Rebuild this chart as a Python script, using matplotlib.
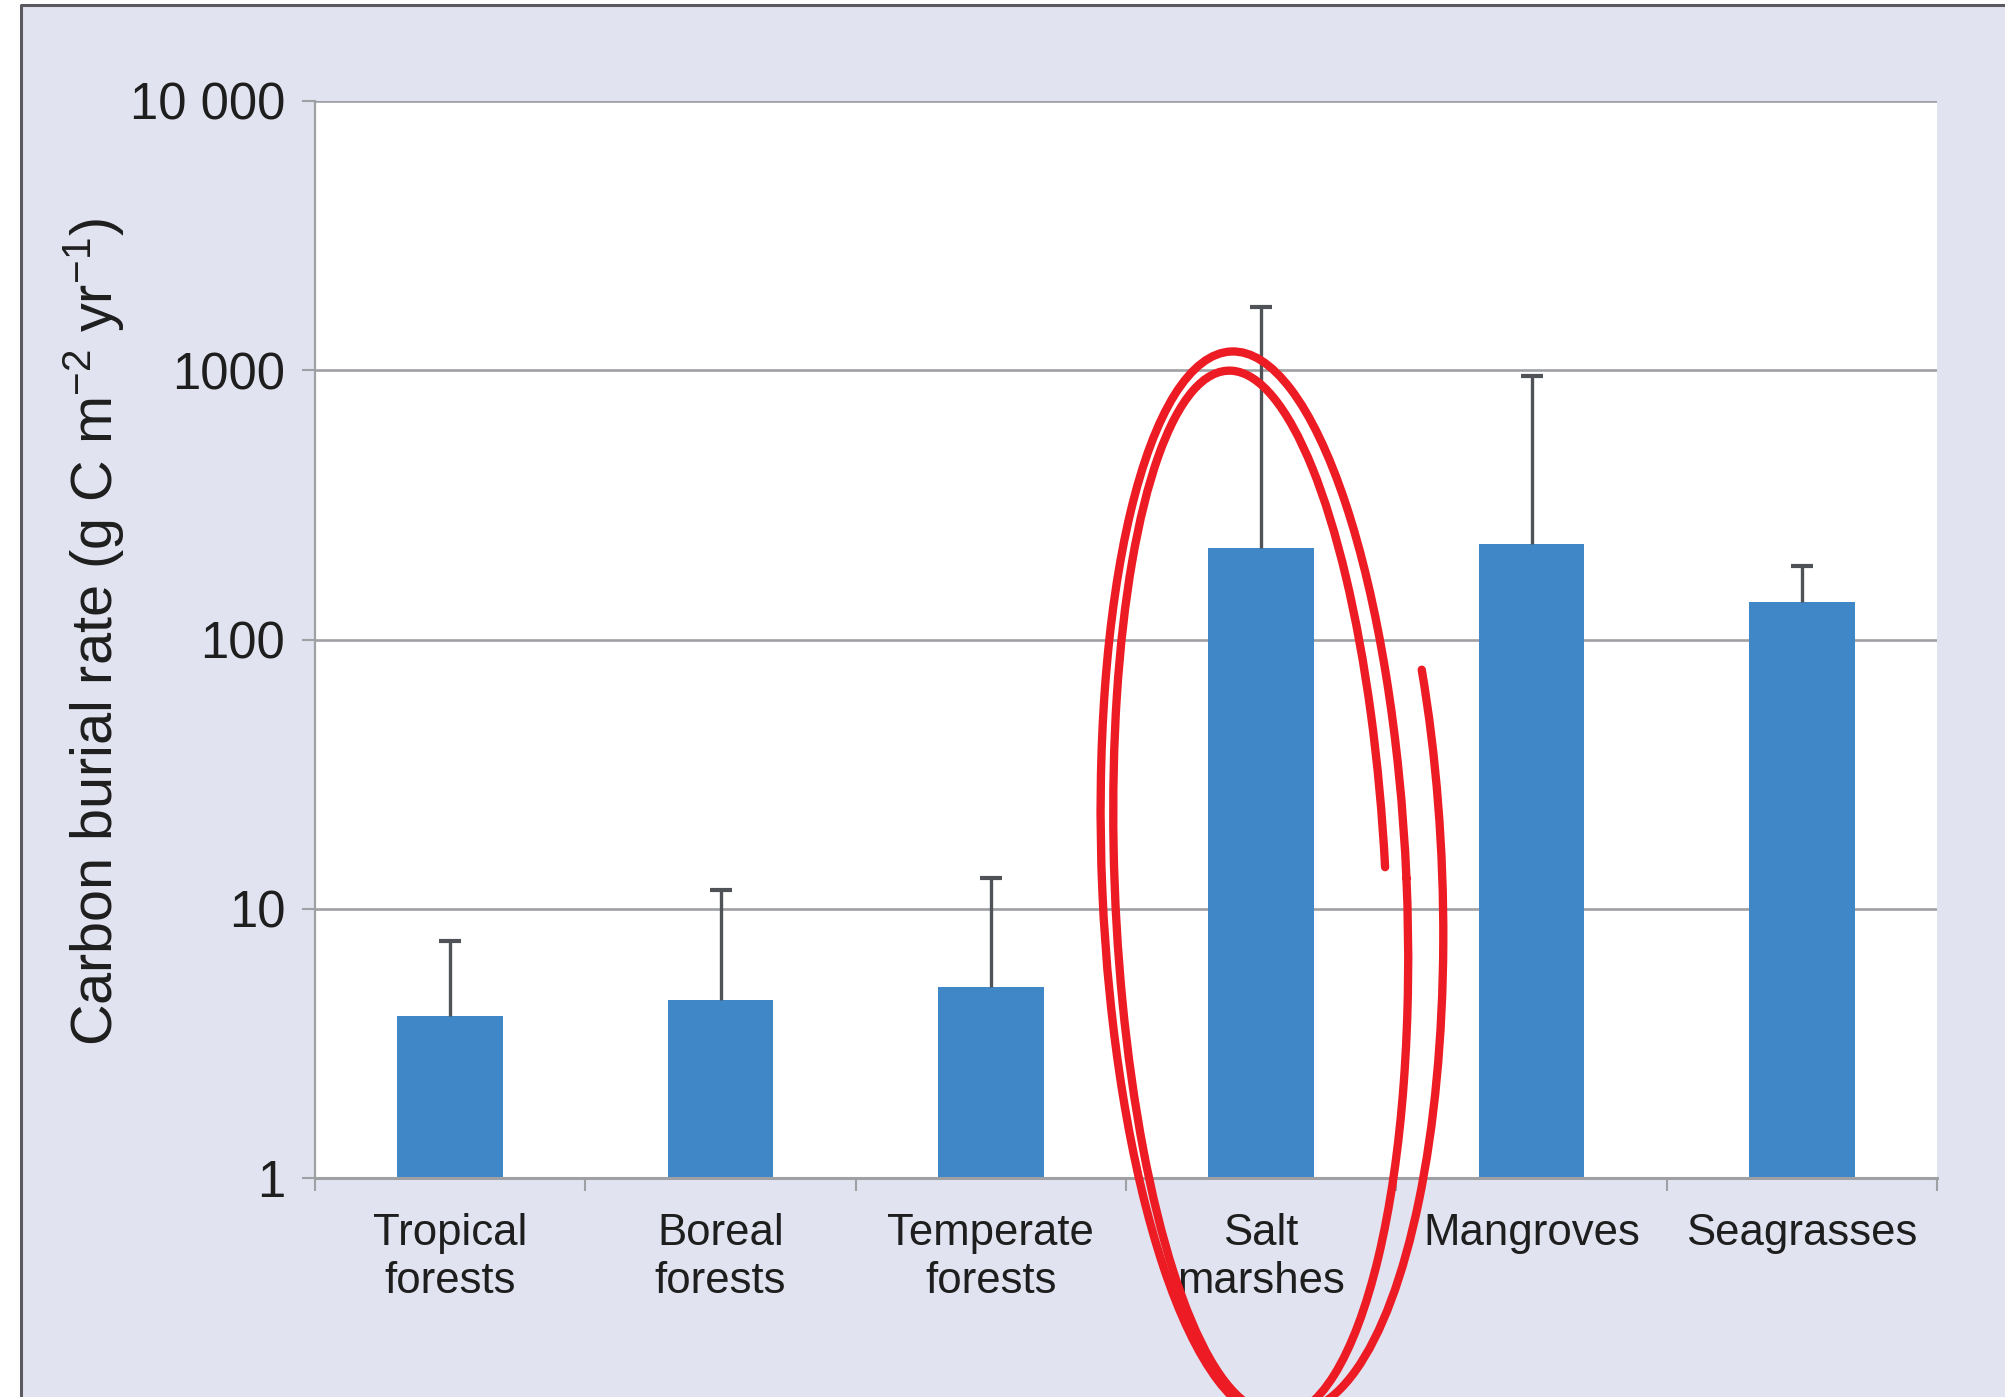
import numpy as np
import matplotlib
matplotlib.use("Agg")
import matplotlib.pyplot as plt
from matplotlib.patches import Rectangle, Arc
from matplotlib.lines import Line2D
from matplotlib.transforms import IdentityTransform

plt.rcParams['font.family'] = ['Liberation Sans', 'DejaVu Sans']
plt.rcParams['mathtext.fontset'] = 'custom'
plt.rcParams['mathtext.rm'] = 'Liberation Sans'
plt.rcParams['mathtext.it'] = 'Liberation Sans:italic'
plt.rcParams['mathtext.bf'] = 'Liberation Sans:bold'

# ---------- data ----------
categories = ["Tropical\nforests", "Boreal\nforests", "Temperate\nforests",
              "Salt\nmarshes", "Mangroves", "Seagrasses"]
burial_mean = [4.0, 4.6, 5.1, 218, 226, 138]
burial_max = [7.6, 11.7, 13.0, 1713, 949, 187]
ytick_vals = [1, 10, 100, 1000, 10000]
ytick_labels = ["1", "10", "100", "1000", "10 000"]

# ---------- style ----------
BG = "#E1E3F0"
BAR = "#3F87C7"
GRID = "#9EA0A4"
TXT = "#1E1E1E"
ERR = "#4F5357"
RED = "#ED1C24"

W, H, DPI = 2005, 1397, 100
fig = plt.figure(figsize=(W / DPI, H / DPI), dpi=DPI)
fig.patch.set_facecolor("white")

# lavender panel with dark border on left/top
bx, by = 21 / W, 5 / H
fig.patches.append(Rectangle((bx, 0), 1 - bx, 1 - by, transform=fig.transFigure,
                             facecolor=BG, edgecolor="none", zorder=-10))
fig.lines.append(Line2D([bx, bx, 1], [0, 1 - by, 1 - by], transform=fig.transFigure,
                        color="#5A5A5E", lw=2.2, zorder=-5))

ax = fig.add_axes([315 / W, (H - 1178) / H, (1937 - 315) / W, (1178 - 101) / H])
ax.set_facecolor("white")
ax.set_yscale("log")
ax.set_ylim(1, 10000)
ax.set_xlim(-0.5, len(categories) - 0.5)

x = np.arange(len(categories))
mean = np.array(burial_mean)
upper = np.array(burial_max) - mean
ax.bar(x, mean, width=0.39, color=BAR, zorder=2)
_, caps, _ = ax.errorbar(x, mean, yerr=[np.zeros_like(mean), upper], fmt="none",
                         ecolor=ERR, elinewidth=2.4, capsize=8, capthick=3, zorder=3)
# only the upper caps are drawn in the original
for c in caps:
    if np.allclose(c.get_ydata(), mean):
        c.set_visible(False)

# grid + ticks
ax.set_axisbelow(True)
ax.yaxis.grid(True, which="major", color=GRID, lw=1.9)
ax.yaxis.set_minor_locator(matplotlib.ticker.NullLocator())
ax.set_yticks(ytick_vals)
ax.set_yticklabels(ytick_labels)
ax.tick_params(axis="y", which="major", length=9.5, width=1.5, color=GRID,
               labelsize=36.5, labelcolor=TXT, pad=12)

ax.set_xticks(x)
ax.set_xticklabels(categories, linespacing=1.22)
ax.set_xticks(np.arange(-0.5, len(categories), 1), minor=True)
ax.tick_params(axis="x", which="major", length=0, labelsize=31.5, labelcolor=TXT, pad=25)
ax.tick_params(axis="x", which="minor", length=9.5, width=1.5, color=GRID)

for s in ["top", "right"]:
    ax.spines[s].set_visible(False)
ax.spines["left"].set_color(GRID)
ax.spines["left"].set_linewidth(1.6)
ax.spines["bottom"].set_color(GRID)
ax.spines["bottom"].set_linewidth(2.2)

ax.set_ylabel(r"Carbon burial rate (g C m$^{-2}$ yr$^{-1}$)", fontsize=41.5,
              color=TXT, va="center")
ax.yaxis.set_label_coords(-0.136, 0.507)

# ---------- hand-drawn red ellipse (pixel coords, reference display scale) ----------
S = W / 1568.0

def polar(t, w, h):
    r = np.radians(t)
    return np.degrees(np.arctan2(h * np.sin(r), w * np.cos(r)))

def arc(cx, cy, w, h, ang, t1, t2):
    # t1, t2 are parametric angles; Arc wants polar ones
    if t2 - t1 >= 360:
        p1, p2 = 0, 360
    else:
        p1, p2 = polar(t1, w, h), polar(t2, w, h)
        while p2 <= p1:
            p2 += 360
    a = Arc((cx * S, H - cy * S), w * S, h * S, angle=ang, theta1=p1, theta2=p2,
            transform=IdentityTransform(), color=RED, lw=6, clip_on=False,
            zorder=10, capstyle="round")
    fig.patches.append(a)

arc(981, 692, 238, 835, 2.5, 0, 360)
arc(978, 697, 212, 815, 2.5, 2, 278)
arc(997, 690, 262, 830, 2, 262, 383)

fig.savefig("out.png", dpi=DPI)
